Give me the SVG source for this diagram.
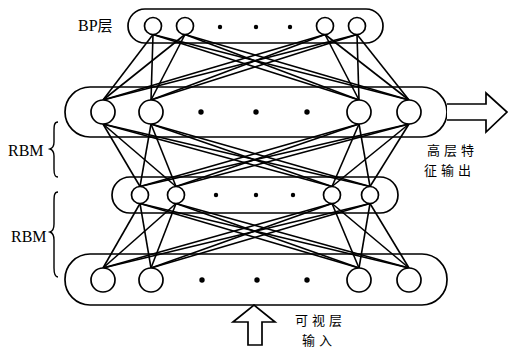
<svg xmlns="http://www.w3.org/2000/svg" width="509" height="351" viewBox="0 0 509 351">
  <style>
    .cap { fill: none; stroke: #000; stroke-width: 1.7; }
    .node { fill: #fff; stroke: #000; stroke-width: 1.7; }
    .dot { fill: #000; }
    .edge line { stroke: #000; stroke-width: 1.6; }
    .arrow { fill: #fff; stroke: #000; stroke-width: 1.7; stroke-linejoin: miter; }
    .brace { fill: none; stroke: #000; stroke-width: 1.4; }
    .lat { font-family: "Liberation Serif", "Times New Roman", serif; font-size: 16px; fill: #000; }
    .cjk { font-family: "Noto Sans CJK SC", "Noto Sans CJK JP", sans-serif; font-size: 13px; fill: #000; letter-spacing: 4px; }
  </style>

  <!-- layer capsules -->
  <g id="capsules">
    <rect class="cap" x="128" y="9" width="255" height="34" rx="17"/>
    <rect class="cap" x="65" y="87" width="382" height="50" rx="25"/>
    <rect class="cap" x="112" y="177" width="286" height="36" rx="18"/>
    <rect class="cap" x="65" y="254" width="382" height="51" rx="25"/>
  </g>

  <!-- full connections between adjacent layers -->
  <g id="connectors" class="edge">
    <!-- BP layer -> hidden layer 1 -->
    <line x1="153" y1="34.5" x2="103" y2="100"/><line x1="153" y1="34.5" x2="151" y2="100"/><line x1="153" y1="34.5" x2="359" y2="100"/><line x1="153" y1="34.5" x2="409" y2="100"/>
    <line x1="185" y1="34.5" x2="103" y2="100"/><line x1="185" y1="34.5" x2="151" y2="100"/><line x1="185" y1="34.5" x2="359" y2="100"/><line x1="185" y1="34.5" x2="409" y2="100"/>
    <line x1="325" y1="34.5" x2="103" y2="100"/><line x1="325" y1="34.5" x2="151" y2="100"/><line x1="325" y1="34.5" x2="359" y2="100"/><line x1="325" y1="34.5" x2="409" y2="100"/>
    <line x1="357" y1="34.5" x2="103" y2="100"/><line x1="357" y1="34.5" x2="151" y2="100"/><line x1="357" y1="34.5" x2="359" y2="100"/><line x1="357" y1="34.5" x2="409" y2="100"/>
    <!-- hidden layer 1 -> hidden layer 2 -->
    <line x1="103" y1="124" x2="140" y2="186.5"/><line x1="103" y1="124" x2="176" y2="186.5"/><line x1="103" y1="124" x2="332" y2="186.5"/><line x1="103" y1="124" x2="370" y2="186.5"/>
    <line x1="151" y1="124" x2="140" y2="186.5"/><line x1="151" y1="124" x2="176" y2="186.5"/><line x1="151" y1="124" x2="332" y2="186.5"/><line x1="151" y1="124" x2="370" y2="186.5"/>
    <line x1="359" y1="124" x2="140" y2="186.5"/><line x1="359" y1="124" x2="176" y2="186.5"/><line x1="359" y1="124" x2="332" y2="186.5"/><line x1="359" y1="124" x2="370" y2="186.5"/>
    <line x1="409" y1="124" x2="140" y2="186.5"/><line x1="409" y1="124" x2="176" y2="186.5"/><line x1="409" y1="124" x2="332" y2="186.5"/><line x1="409" y1="124" x2="370" y2="186.5"/>
    <!-- hidden layer 2 -> visible layer -->
    <line x1="140" y1="203.5" x2="103" y2="268"/><line x1="140" y1="203.5" x2="151" y2="268"/><line x1="140" y1="203.5" x2="359" y2="268"/><line x1="140" y1="203.5" x2="409" y2="268"/>
    <line x1="176" y1="203.5" x2="103" y2="268"/><line x1="176" y1="203.5" x2="151" y2="268"/><line x1="176" y1="203.5" x2="359" y2="268"/><line x1="176" y1="203.5" x2="409" y2="268"/>
    <line x1="332" y1="203.5" x2="103" y2="268"/><line x1="332" y1="203.5" x2="151" y2="268"/><line x1="332" y1="203.5" x2="359" y2="268"/><line x1="332" y1="203.5" x2="409" y2="268"/>
    <line x1="370" y1="203.5" x2="103" y2="268"/><line x1="370" y1="203.5" x2="151" y2="268"/><line x1="370" y1="203.5" x2="359" y2="268"/><line x1="370" y1="203.5" x2="409" y2="268"/>
  </g>

  <!-- BP layer -->
  <g id="layer-bp">
    <circle class="node" cx="153" cy="26" r="8.5"/>
    <circle class="node" cx="185" cy="26" r="8.5"/>
    <circle class="dot" cx="220" cy="27" r="2.2"/>
    <circle class="dot" cx="256" cy="27" r="2.2"/>
    <circle class="dot" cx="290" cy="27" r="2.2"/>
    <circle class="node" cx="325" cy="26" r="8.5"/>
    <circle class="node" cx="357" cy="26" r="8.5"/>
  </g>

  <!-- hidden layer 1 -->
  <g id="layer-h1">
    <circle class="node" cx="103" cy="112" r="12"/>
    <circle class="node" cx="151" cy="112" r="12"/>
    <circle class="dot" cx="201" cy="112" r="2.7"/>
    <circle class="dot" cx="256" cy="112" r="2.7"/>
    <circle class="dot" cx="307" cy="112" r="2.7"/>
    <circle class="node" cx="359" cy="112" r="12"/>
    <circle class="node" cx="409" cy="112" r="12"/>
  </g>

  <!-- hidden layer 2 -->
  <g id="layer-h2">
    <circle class="node" cx="140" cy="195" r="8.5"/>
    <circle class="node" cx="176" cy="195" r="8.5"/>
    <circle class="dot" cx="216" cy="195" r="2.2"/>
    <circle class="dot" cx="256" cy="195" r="2.2"/>
    <circle class="dot" cx="293" cy="195" r="2.2"/>
    <circle class="node" cx="332" cy="195" r="8.5"/>
    <circle class="node" cx="370" cy="195" r="8.5"/>
  </g>

  <!-- visible layer -->
  <g id="layer-v">
    <circle class="node" cx="103" cy="280" r="12"/>
    <circle class="node" cx="151" cy="280" r="12"/>
    <circle class="dot" cx="202" cy="280" r="2.7"/>
    <circle class="dot" cx="257" cy="280" r="2.7"/>
    <circle class="dot" cx="307" cy="280" r="2.7"/>
    <circle class="node" cx="359" cy="280" r="12"/>
    <circle class="node" cx="409" cy="280" r="12"/>
  </g>

  <!-- output arrow -->
  <g id="output">
    <path class="arrow" d="M447,104 L486,104 L486,93 L507,112 L486,132 L486,120 L447,120"/>
    <text class="cjk" x="427" y="155">高层特</text>
    <text class="cjk" x="424" y="175">征输出</text>
  </g>

  <!-- input arrow -->
  <g id="input">
    <path class="arrow" d="M248,345 L248,322 L233,322 L254,305 L275,322 L262,322 L262,345 Z"/>
    <text class="cjk" x="295" y="325">可视层</text>
    <text class="cjk" x="302" y="345">输入</text>
  </g>

  <!-- labels -->
  <g id="label-bp">
    <text class="lat" x="78" y="31">BP<tspan font-family="Noto Sans CJK SC, sans-serif" font-size="15">层</tspan></text>
  </g>
  <g id="label-rbm1">
    <text class="lat" x="8" y="156">RBM</text>
    <path class="brace" d="M58,122 C54,122 54,126 54,132 L54,142 C54,146 53,148 50,149 C53,150 54,152 54,156 L54,169 C54,175 55,177 58,177"/>
  </g>
  <g id="label-rbm2">
    <text class="lat" x="11" y="242">RBM</text>
    <path class="brace" d="M58,192 C54,192 54,196 54,203 L54,224 C54,229 53,231 50,232 C53,233 54,235 54,240 L54,268 C54,274 55,277 58,277"/>
  </g>
</svg>
